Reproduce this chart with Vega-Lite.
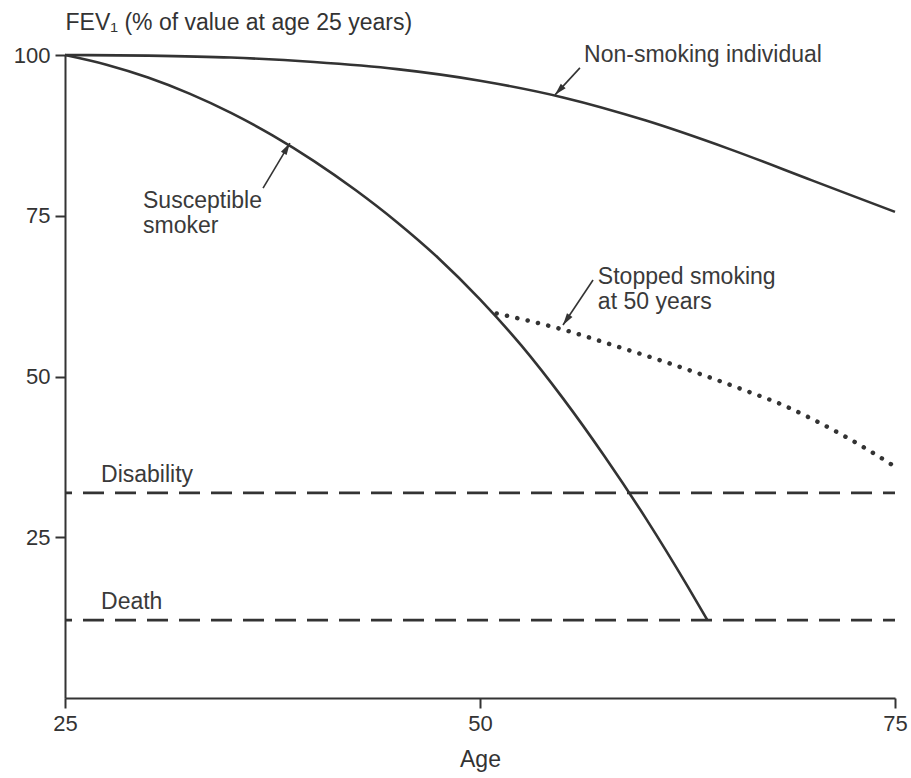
{
  "$schema": "https://vega.github.io/schema/vega-lite/v6.json",
  "width": 830,
  "height": 643,
  "autosize": {"type": "none"},
  "padding": {"left": 65, "top": 55, "right": 16, "bottom": 80},
  "background": "white",
  "config": {
    "view": {"stroke": null},
    "font": "Liberation Sans",
    "axis": {
      "grid": false,
      "domainColor": "#333333",
      "domainWidth": 2,
      "tickColor": "#333333",
      "tickWidth": 2,
      "tickSize": 10,
      "labelColor": "#333333",
      "labelFontSize": 22,
      "labelFont": "Liberation Sans",
      "titleColor": "#333333",
      "titleFontSize": 23,
      "titleFont": "Liberation Sans",
      "titleFontWeight": "normal",
      "labelFlush": false
    }
  },
  "datasets": {
    "curves": [
      {"series": "Non-smoking individual", "age": 25, "fev": 100},
      {"series": "Non-smoking individual", "age": 30, "fev": 99.9},
      {"series": "Non-smoking individual", "age": 35, "fev": 99.6},
      {"series": "Non-smoking individual", "age": 40, "fev": 98.9},
      {"series": "Non-smoking individual", "age": 45, "fev": 97.8},
      {"series": "Non-smoking individual", "age": 50, "fev": 96.0},
      {"series": "Non-smoking individual", "age": 55, "fev": 93.4},
      {"series": "Non-smoking individual", "age": 60, "fev": 89.8},
      {"series": "Non-smoking individual", "age": 65, "fev": 85.4},
      {"series": "Non-smoking individual", "age": 70, "fev": 80.5},
      {"series": "Non-smoking individual", "age": 75, "fev": 75.6},
      {"series": "Susceptible smoker", "age": 25, "fev": 100},
      {"series": "Susceptible smoker", "age": 27.5, "fev": 98.5},
      {"series": "Susceptible smoker", "age": 30, "fev": 96.5},
      {"series": "Susceptible smoker", "age": 32.5, "fev": 94.0},
      {"series": "Susceptible smoker", "age": 35, "fev": 91.0},
      {"series": "Susceptible smoker", "age": 37.5, "fev": 87.5},
      {"series": "Susceptible smoker", "age": 40, "fev": 83.5},
      {"series": "Susceptible smoker", "age": 42.5, "fev": 79.0},
      {"series": "Susceptible smoker", "age": 45, "fev": 74.0},
      {"series": "Susceptible smoker", "age": 47.5, "fev": 68.4},
      {"series": "Susceptible smoker", "age": 50, "fev": 62.0},
      {"series": "Susceptible smoker", "age": 52.5, "fev": 54.8},
      {"series": "Susceptible smoker", "age": 55, "fev": 46.6},
      {"series": "Susceptible smoker", "age": 57.5, "fev": 37.6},
      {"series": "Susceptible smoker", "age": 60, "fev": 27.9},
      {"series": "Susceptible smoker", "age": 62.5, "fev": 17.4},
      {"series": "Susceptible smoker", "age": 63.7, "fev": 12.1}
    ],
    "stopped": [
      {"age": 51, "fev": 59.8},
      {"age": 55, "fev": 57.3},
      {"age": 58.1, "fev": 54.8},
      {"age": 61, "fev": 52.4},
      {"age": 63.9, "fev": 49.8},
      {"age": 66, "fev": 47.8},
      {"age": 68.3, "fev": 45.5},
      {"age": 70, "fev": 43.4},
      {"age": 71.9, "fev": 40.8},
      {"age": 73.5, "fev": 38.4},
      {"age": 74.8, "fev": 36.3}
    ],
    "thresholds": [
      {"label": "Disability", "fev": 31.9},
      {"label": "Death", "fev": 12.1}
    ],
    "labels": [
      {"text": ["Non-smoking individual"], "age": 56.27, "fev": 98.9},
      {"text": ["Susceptible", "smoker"], "age": 29.7, "fev": 76.2},
      {"text": ["Stopped smoking", "at 50 years"], "age": 57.1, "fev": 64.4},
      {"text": ["Disability"], "age": 27.17, "fev": 33.6},
      {"text": ["Death"], "age": 27.17, "fev": 13.8}
    ],
    "arrows": [
      {"arrow": "non", "age": 56.02, "fev": 98.0, "age2": 54.52, "fev2": 93.8},
      {"arrow": "sus", "age": 36.93, "fev": 79.3, "age2": 38.55, "fev2": 86.3},
      {"arrow": "stop", "age": 56.81, "fev": 65.0, "age2": 55.0, "fev2": 58.0}
    ]
  },
  "layer": [
    {
      "data": {"name": "curves"},
      "mark": {"type": "line", "color": "#333333", "strokeWidth": 2.6, "interpolate": "monotone"},
      "encoding": {
        "x": {
          "field": "age", "type": "quantitative",
          "scale": {"domain": [25, 75], "nice": false, "zero": false},
          "axis": {"values": [25, 50, 75], "title": "Age", "labelPadding": 5, "titlePadding": 14}
        },
        "y": {
          "field": "fev", "type": "quantitative",
          "scale": {"domain": [0, 100], "nice": false},
          "axis": {
            "values": [25, 50, 75, 100],
            "labelPadding": 5,
            "title": "FEV₁ (% of value at age 25 years)",
            "titleAngle": 0,
            "titleAlign": "left",
            "titleBaseline": "alphabetic",
            "titleX": 0,
            "titleY": -26
          }
        },
        "detail": {"field": "series"}
      }
    },
    {
      "data": {"name": "stopped"},
      "mark": {"type": "line", "color": "#333333", "strokeWidth": 4.5, "strokeCap": "round", "strokeDash": [0.1, 10.5], "interpolate": "monotone"},
      "encoding": {
        "x": {"field": "age", "type": "quantitative"},
        "y": {"field": "fev", "type": "quantitative"}
      }
    },
    {
      "data": {"name": "thresholds"},
      "mark": {"type": "rule", "color": "#333333", "strokeWidth": 2.8, "strokeDash": [21, 11], "strokeDashOffset": 9},
      "encoding": {
        "y": {"field": "fev", "type": "quantitative"}
      }
    },
    {
      "data": {"name": "arrows"},
      "mark": {"type": "rule", "color": "#333333", "strokeWidth": 1.6},
      "encoding": {
        "x": {"field": "age", "type": "quantitative"},
        "y": {"field": "fev", "type": "quantitative"},
        "x2": {"field": "age2"},
        "y2": {"field": "fev2"}
      }
    },
    {
      "data": {"name": "arrows"},
      "transform": [{"filter": "datum.arrow === 'non'"}],
      "mark": {"type": "point", "filled": true, "color": "#333333", "opacity": 1, "size": 400, "angle": 223, "shape": "M0,0L0.33,1.2L-0.33,1.2Z"},
      "encoding": {
        "x": {"field": "age2", "type": "quantitative"},
        "y": {"field": "fev2", "type": "quantitative"}
      }
    },
    {
      "data": {"name": "arrows"},
      "transform": [{"filter": "datum.arrow === 'sus'"}],
      "mark": {"type": "point", "filled": true, "color": "#333333", "opacity": 1, "size": 400, "angle": 31, "shape": "M0,0L0.33,1.2L-0.33,1.2Z"},
      "encoding": {
        "x": {"field": "age2", "type": "quantitative"},
        "y": {"field": "fev2", "type": "quantitative"}
      }
    },
    {
      "data": {"name": "arrows"},
      "transform": [{"filter": "datum.arrow === 'stop'"}],
      "mark": {"type": "point", "filled": true, "color": "#333333", "opacity": 1, "size": 400, "angle": 214, "shape": "M0,0L0.33,1.2L-0.33,1.2Z"},
      "encoding": {
        "x": {"field": "age2", "type": "quantitative"},
        "y": {"field": "fev2", "type": "quantitative"}
      }
    },
    {
      "data": {"name": "labels"},
      "mark": {"type": "text", "align": "left", "baseline": "alphabetic", "fontSize": 23, "lineHeight": 25, "color": "#3a3a3a", "font": "Liberation Sans"},
      "encoding": {
        "x": {"field": "age", "type": "quantitative"},
        "y": {"field": "fev", "type": "quantitative"},
        "text": {"field": "text"}
      }
    }
  ]
}
